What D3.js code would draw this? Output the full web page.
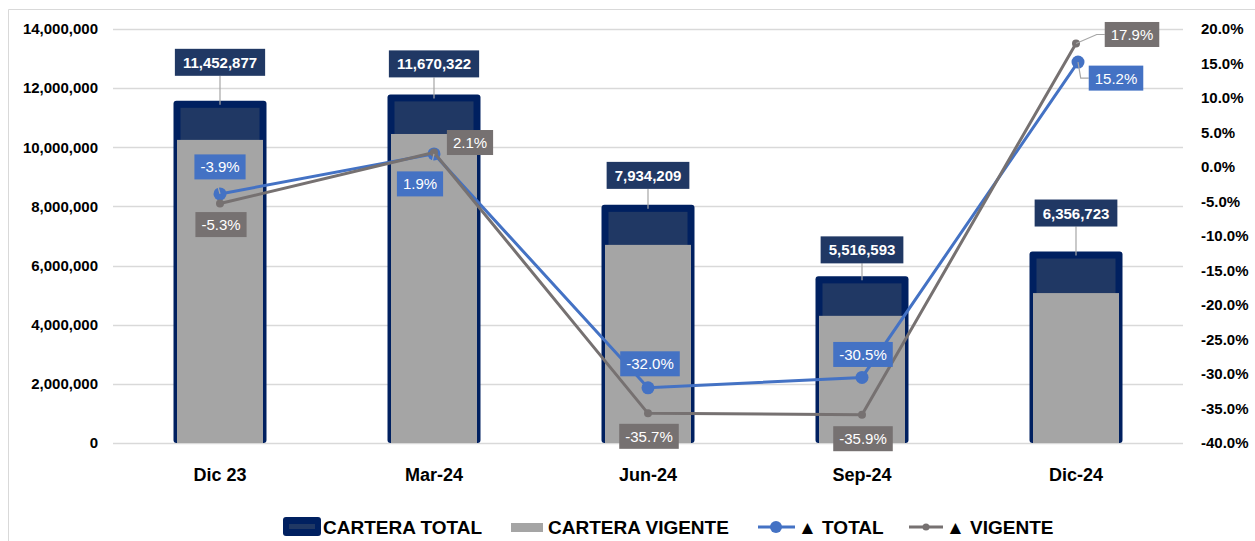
<!DOCTYPE html>
<html>
<head>
<meta charset="utf-8">
<script src="https://cdn.jsdelivr.net/npm/d3@7"></script>
<style>
  body { margin: 0; background: #fff; }
  text { font-family: "Liberation Sans", Arial, sans-serif; }
</style>
</head>
<body>
<svg id="chart" width="1255" height="541"></svg>
<script>
// data
const categories = ["Dic 23", "Mar-24", "Jun-24", "Sep-24", "Dic-24"];
const carteraTotal = [11452877, 11670322, 7934209, 5516593, 6356723];
const carteraVigente = [10250000, 10450000, 6700000, 4300000, 5070000];
const varTotal = [-0.039, 0.019, -0.320, -0.305, 0.152];
const varVigente = [-0.053, 0.021, -0.357, -0.359, 0.179];
const leftTicks = [0, 2000000, 4000000, 6000000, 8000000, 10000000, 12000000, 14000000];
const rightTicks = [-40, -35, -30, -25, -20, -15, -10, -5, 0, 5, 10, 15, 20];

// label placement (nudges relative to the marks)
const totalLabelGap = [25, 17, 16, 13, 25];
const pctTotalNudge = [[0, -27], [-14, 30], [2, -24], [1, -23], [38, 16]];
const pctVigNudge = [[1, 21], [36, -10], [1, 23], [1, 24], [56, -9]];

const NAVY = "#002060", NAVY_IN = "#203864", GREY_BAR = "#A5A5A5";
const BLUE = "#4472C4", GREY_LINE = "#767171";

let svg = d3.select("#chart");

// outer frame
svg.append("path")
  .attr("d", "M8.5,541 L8.5,9.5 L1255,9.5")
  .attr("fill", "none")
  .attr("stroke", "#D9D9D9");

let x = d3.scaleBand().domain(categories).range([113, 1183]);
let yL = d3.scaleLinear().domain([0, 14000000]).range([443, 29]);
let yR = d3.scaleLinear().domain([-0.40, 0.20]).range([443, 29]);
let cx = i => x(categories[i]) + x.bandwidth() / 2;

// gridlines
svg.append("g")
  .selectAll("line")
  .data(leftTicks)
  .join("line")
  .attr("x1", 113).attr("x2", 1183)
  .attr("y1", d => Math.round(yL(d)) + 0.5)
  .attr("y2", d => Math.round(yL(d)) + 0.5)
  .attr("stroke", "#D9D9D9")
  .attr("stroke-width", 1.5);

// left axis
let axL = svg.append("g")
  .attr("transform", "translate(113,0)")
  .call(d3.axisLeft(yL).tickValues(leftTicks).tickFormat(d3.format(",")).tickSize(0).tickPadding(15));
axL.select(".domain").remove();
axL.selectAll("text").attr("font-size", 15).attr("font-weight", "bold").attr("fill", "#000")
  .style("font-family", "'Liberation Sans', Arial, sans-serif");

// right axis
let axR = svg.append("g")
  .attr("transform", "translate(1183,0)")
  .call(d3.axisRight(yR).tickValues(rightTicks.map(v => v / 100))
    .tickFormat(d => (Math.round(d * 1000) / 10).toFixed(1) + "%").tickSize(0).tickPadding(18));
axR.select(".domain").remove();
axR.selectAll("text").attr("font-size", 15).attr("font-weight", "bold").attr("fill", "#000")
  .style("font-family", "'Liberation Sans', Arial, sans-serif");

// bottom axis
let axB = svg.append("g")
  .attr("transform", "translate(0,443)")
  .call(d3.axisBottom(x).tickSize(0).tickPadding(25));
axB.select(".domain").remove();
axB.selectAll("text").attr("font-size", 18).attr("font-weight", "bold").attr("fill", "#000")
  .style("font-family", "'Liberation Sans', Arial, sans-serif");

// total bars
let idx = d3.range(categories.length);
let gBars = svg.append("g");
gBars.selectAll(".bar-out")
  .data(idx)
  .join("rect")
  .attr("class", "bar-out")
  .attr("x", i => cx(i) - 46.5)
  .attr("width", 93)
  .attr("y", i => yL(carteraTotal[i]) - 3.5)
  .attr("height", i => 443 - yL(carteraTotal[i]) + 3.5)
  .attr("rx", 3)
  .attr("fill", NAVY);
gBars.selectAll(".bar-in")
  .data(idx)
  .join("rect")
  .attr("class", "bar-in")
  .attr("x", i => cx(i) - 39.5)
  .attr("width", 79)
  .attr("y", i => yL(carteraTotal[i]) + 3.5)
  .attr("height", i => 443 - yL(carteraTotal[i]) - 3.5)
  .attr("fill", NAVY_IN);
gBars.selectAll(".bar-vig")
  .data(idx)
  .join("rect")
  .attr("class", "bar-vig")
  .attr("x", i => cx(i) - 43)
  .attr("width", 86)
  .attr("y", i => yL(carteraVigente[i]))
  .attr("height", i => 443 - yL(carteraVigente[i]))
  .attr("fill", GREY_BAR);

// lines
let line = d3.line().x(d => d[0]).y(d => d[1]);
let ptsTotal = idx.map(i => [cx(i) + (i === 4 ? 2 : 0), yR(varTotal[i])]);
let ptsVig = idx.map(i => [cx(i), yR(varVigente[i])]);

svg.append("path").attr("d", line(ptsTotal)).attr("fill", "none")
  .attr("stroke", BLUE).attr("stroke-width", 3);
svg.append("g").selectAll("circle").data(ptsTotal).join("circle")
  .attr("cx", d => d[0]).attr("cy", d => d[1]).attr("r", 6.5).attr("fill", BLUE);
svg.append("path").attr("d", line(ptsVig)).attr("fill", "none")
  .attr("stroke", GREY_LINE).attr("stroke-width", 3);
svg.append("g").selectAll("circle").data(ptsVig).join("circle")
  .attr("cx", d => d[0]).attr("cy", d => d[1]).attr("r", 4).attr("fill", GREY_LINE);

// label helper: box with text, centred at (bx, by)
function boxLabel(g, bx, by, txt, fill, size, weight, padX, h) {
  let t = g.append("text")
    .attr("x", bx).attr("y", by)
    .attr("text-anchor", "middle")
    .attr("dominant-baseline", "central")
    .attr("font-size", size)
    .attr("font-weight", weight)
    .attr("fill", "#fff")
    .text(txt);
  let w = t.node().getComputedTextLength() + padX * 2;
  g.insert("rect", "text:last-of-type")
    .attr("x", bx - w / 2).attr("y", by - h / 2)
    .attr("width", w).attr("height", h)
    .attr("fill", fill);
  return { x0: bx - w / 2, x1: bx + w / 2, y0: by - h / 2, y1: by + h / 2 };
}

// total value labels
let fmt = d3.format(",");
let gVal = svg.append("g");
idx.forEach(i => {
  let top = yL(carteraTotal[i]) - 3.5;
  let by = top - totalLabelGap[i] - 13.5;
  gVal.append("line")
    .attr("x1", cx(i)).attr("x2", cx(i))
    .attr("y1", by + 13.5).attr("y2", top + 4)
    .attr("stroke", "#A6A6A6").attr("stroke-width", 1.2);
  let g = gVal.append("g");
  boxLabel(g, cx(i), by, fmt(carteraTotal[i]), NAVY_IN, 15, "bold", 8, 27);
});

// percent labels
let pf = v => (v * 100).toFixed(1) + "%";
function pctLabels(pts, vals, nudge, fill) {
  let gl = svg.append("g");
  idx.forEach(i => {
    let [px, py] = pts[i];
    let bx = px + nudge[i][0], by = py + nudge[i][1];
    let lead = gl.append("path").attr("fill", "none").attr("stroke", "#A6A6A6").attr("stroke-width", 1.2);
    let g = gl.append("g");
    let b = boxLabel(g, bx, by, pf(vals[i]), fill, 15, "normal", 6, 25);
    if (i === 4) {
      // elbow leader to the left edge of the box
      lead.attr("d", `M${px},${py} L${b.x0 - 8},${by} L${b.x0},${by}`);
    } else if (b.y1 < py - 9 || b.y0 > py + 9) {
      let ey = b.y1 < py ? b.y1 : b.y0;
      let ex = Math.max(b.x0 + 18, Math.min(px - 4, b.x1));
      if (Math.abs(ey - py) > 12) lead.attr("d", `M${px},${py} L${ex},${ey}`);
    }
  });
}
pctLabels(ptsTotal, varTotal, pctTotalNudge, BLUE);
pctLabels(ptsVig, varVigente, pctVigNudge, GREY_LINE);

// legend
let lg = svg.append("g").attr("font-weight", "bold").attr("font-size", 19)
  .style("font-family", "'Liberation Sans Narrow', 'Arial Narrow', sans-serif");
lg.append("rect").attr("x", 283).attr("y", 517).attr("width", 38).attr("height", 19).attr("rx", 3).attr("fill", NAVY);
lg.append("rect").attr("x", 289).attr("y", 524).attr("width", 26).attr("height", 5).attr("fill", NAVY_IN);
lg.append("text").attr("x", 323).attr("y", 534).text("CARTERA TOTAL");
lg.append("rect").attr("x", 511).attr("y", 523).attr("width", 32).attr("height", 9).attr("fill", GREY_BAR);
lg.append("text").attr("x", 548).attr("y", 534).text("CARTERA VIGENTE");
lg.append("line").attr("x1", 758).attr("x2", 795).attr("y1", 527).attr("y2", 527).attr("stroke", BLUE).attr("stroke-width", 3);
lg.append("circle").attr("cx", 776).attr("cy", 527).attr("r", 6).attr("fill", BLUE);
lg.append("text").attr("x", 798).attr("y", 534).text("▲ TOTAL");
lg.append("line").attr("x1", 909).attr("x2", 943).attr("y1", 527).attr("y2", 527).attr("stroke", GREY_LINE).attr("stroke-width", 3);
lg.append("circle").attr("cx", 926).attr("cy", 527).attr("r", 3.5).attr("fill", GREY_LINE);
lg.append("text").attr("x", 946).attr("y", 534).text("▲ VIGENTE");
</script>
</body>
</html>
